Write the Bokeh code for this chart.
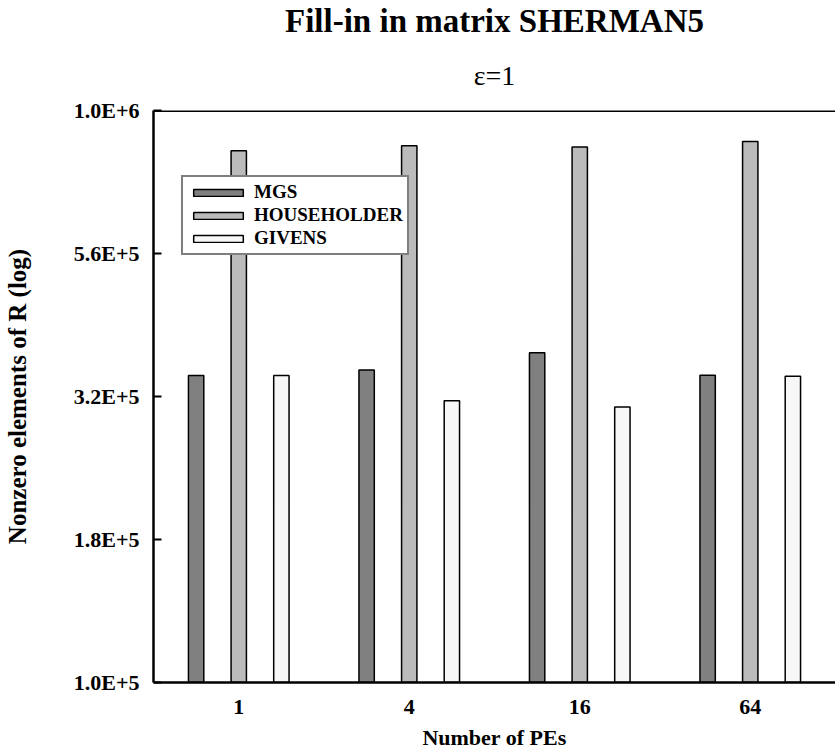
from bokeh.plotting import figure
from bokeh.models import (FactorRange, Range1d, FixedTicker, CustomJSTickFormatter,
                          Title, Legend, LegendItem, ColumnDataSource, Span)
from bokeh.transform import dodge
from bokeh.embed import file_html
from bokeh.resources import INLINE

# ---- data ----
pes = ["1", "4", "16", "64"]
mgs = [344000, 352000, 377000, 344500]
householder = [850000, 868000, 863000, 883000]
givens = [344000, 311000, 303000, 343000]
series_names = ["MGS", "HOUSEHOLDER", "GIVENS"]
y_tick_values = [1.0e5, 177828, 316228, 562341, 1.0e6]
y_tick_labels = ["1.0E+5", "1.8E+5", "3.2E+5", "5.6E+5", "1.0E+6"]

FONT = "Liberation Serif"

p = figure(width=835, height=753,
           x_range=FactorRange(*pes, range_padding=0),
           y_range=Range1d(1.0e5, 1.0e6), y_axis_type="log",
           output_backend="svg", toolbar_location=None, title_location=None,
           min_border_left=153, min_border_right=0, min_border_top=109,
           min_border_bottom=71)

p.grid.grid_line_color = None
p.outline_line_color = None
p.background_fill_color = "white"
p.border_fill_color = "white"

fmt = CustomJSTickFormatter(args=dict(vals=y_tick_values, labels=y_tick_labels), code="""
let best = 0, d = Infinity;
for (let i = 0; i < vals.length; i++) {
  const dd = Math.abs(Math.log10(vals[i]) - Math.log10(tick));
  if (dd < d) { d = dd; best = i; }
}
return labels[best];
""")

ya = p.yaxis[0]
ya.ticker = FixedTicker(ticks=y_tick_values)
ya.formatter = fmt
ya.axis_line_width = 2.5
ya.axis_line_color = "black"
ya.major_tick_line_width = 2
ya.major_tick_line_color = "black"
ya.major_tick_in = 8
ya.major_tick_out = 0
ya.minor_tick_line_color = None
ya.major_label_text_font = FONT
ya.major_label_text_font_style = "bold"
ya.major_label_text_font_size = "22px"
ya.major_label_text_color = "black"
ya.major_label_standoff = 14
ya.axis_label = "Nonzero elements of R (log)"
ya.axis_label_text_font = FONT
ya.axis_label_text_font_style = "bold"
ya.axis_label_text_font_size = "25px"
ya.axis_label_text_color = "black"
ya.axis_label_standoff = 40

xa = p.xaxis[0]
xa.axis_line_width = 2.5
xa.axis_line_color = "black"
xa.major_tick_line_color = None
xa.minor_tick_line_color = None
xa.major_label_text_font = FONT
xa.major_label_text_font_style = "bold"
xa.major_label_text_font_size = "22px"
xa.major_label_text_color = "black"
xa.major_label_standoff = 11
xa.axis_label = "Number of PEs"
xa.axis_label_text_font = FONT
xa.axis_label_text_font_style = "bold"
xa.axis_label_text_font_size = "22px"
xa.axis_label_text_color = "black"
xa.axis_label_standoff = 8

# top border of the frame
p.add_layout(Span(location=1.0e6, dimension="width", line_color="black", line_width=3))

src = ColumnDataSource(dict(pe=pes, mgs=mgs, hh=householder, giv=givens))
colors = ["#808080", "#bbbbbb", "#f7f7f7"]
cols = ["mgs", "hh", "giv"]
offsets = [-0.25, 0.0, 0.25]
renderers = []
for col, off, c in zip(cols, offsets, colors):
    r = p.vbar(x=dodge("pe", off, range=p.x_range), top=col, bottom=1.0e5,
               width=0.09, source=src, fill_color=c, line_color="black",
               line_width=1.5)
    renderers.append(r)

legend = Legend(items=[LegendItem(label=n, renderers=[r]) for n, r in zip(series_names, renderers)],
                location=(28, 427), border_line_color="black", border_line_width=2.5,
                padding=4, spacing=1, label_height=19, glyph_height=9, glyph_width=62,
                label_standoff=5, label_text_font=FONT, label_text_font_style="bold",
                label_text_font_size="19px", label_text_color="black",
                background_fill_alpha=1.0, margin=0)
p.add_layout(legend, "center")

sub = Title(text="ε=1", text_font=FONT, text_font_size="28px", text_color="black",
            text_font_style="normal", align="center", standoff=39)
main = Title(text="Fill-in in matrix SHERMAN5", text_font=FONT, text_font_size="33px",
             text_color="black", text_font_style="bold", align="center", standoff=0)
p.add_layout(sub, "above")
p.add_layout(main, "above")

open("out.html", "w").write(file_html(p, INLINE))
